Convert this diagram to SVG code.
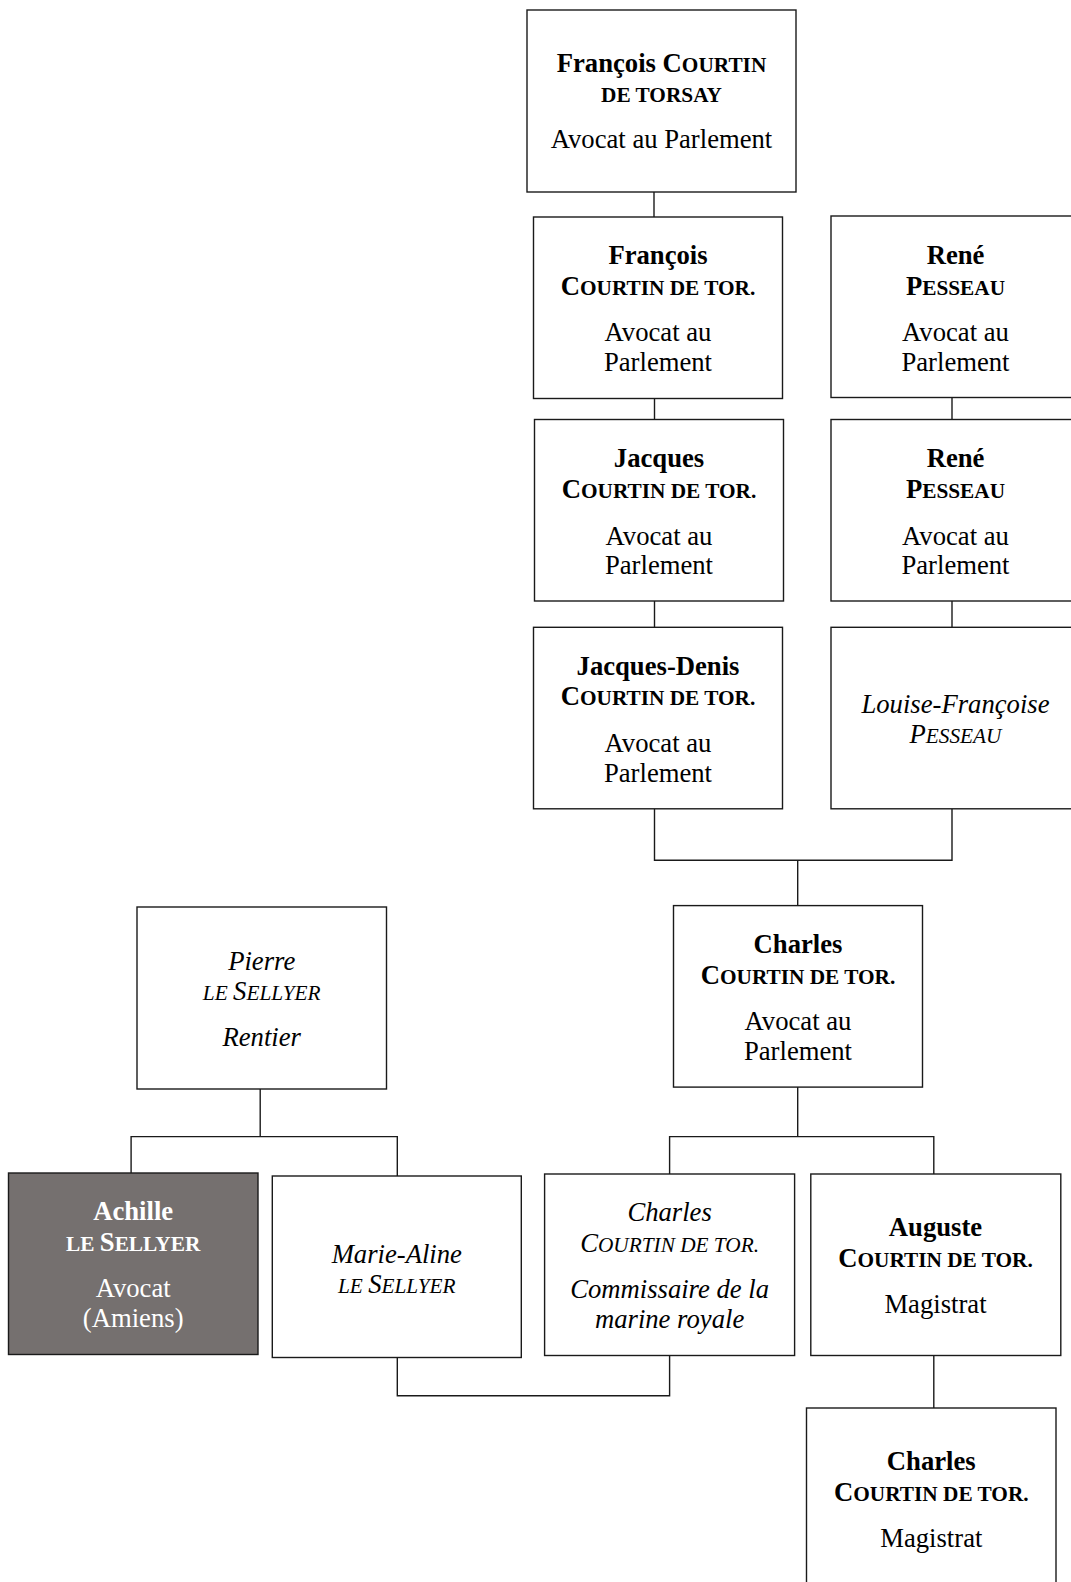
<svg xmlns="http://www.w3.org/2000/svg" width="1071" height="1582" viewBox="0 0 1071 1582">
<style>
  .box { fill: #ffffff; stroke: #1a1a1a; stroke-width: 1.4; }
  .dark { fill: #75706f; stroke: #1a1a1a; stroke-width: 1.4; }
  .ln { fill: none; stroke: #1a1a1a; stroke-width: 1.4; }
  text { font-family: "Liberation Serif", "Times New Roman", serif; font-size: 26.67px; fill: #000; text-anchor: middle; }
  .b { font-weight: bold; }
  .i { font-style: italic; }
  .w { fill: #ffffff; }
  .sc { font-size: 21.3px; }
</style>
<rect width="1071" height="1582" fill="#ffffff"/>

<g id="connectors">
  <path class="ln" d="M654 192 V217"/>
  <path class="ln" d="M654.5 398.5 V419.5"/>
  <path class="ln" d="M654.5 601 V627.3"/>
  <path class="ln" d="M952 397.5 V419.5"/>
  <path class="ln" d="M952 601 V627.3"/>
  <path class="ln" d="M654.5 808.8 V860.2 H952 V808.8"/>
  <path class="ln" d="M797.7 860.2 V905.6"/>
  <path class="ln" d="M260.2 1089 V1136.6"/>
  <path class="ln" d="M131.1 1173 V1136.6 H397.3 V1176"/>
  <path class="ln" d="M797.7 1087.1 V1136.6"/>
  <path class="ln" d="M669.6 1174 V1136.6 H933.8 V1174"/>
  <path class="ln" d="M397.3 1357.5 V1395.7 H669.6 V1355.5"/>
  <path class="ln" d="M933.8 1355.5 V1408"/>
</g>

<g id="n1">
  <rect class="box" x="527" y="10" width="269" height="182"/>
  <text class="b" x="661.5" y="71.7">François C<tspan class="sc">OURTIN</tspan></text>
  <text class="b sc" x="661.5" y="101.7">DE TORSAY</text>
  <text x="661.5" y="148">Avocat au Parlement</text>
</g>

<g id="n2">
  <rect class="box" x="533.5" y="217" width="249" height="181.5"/>
  <text class="b" x="658" y="264">François</text>
  <text class="b" x="658" y="294.5">C<tspan class="sc">OURTIN DE TOR.</tspan></text>
  <text x="658" y="341">Avocat au</text>
  <text x="658" y="370.5">Parlement</text>
</g>

<g id="n3">
  <rect class="box" x="831" y="216" width="249" height="181.5"/>
  <text class="b" x="955.5" y="264">René</text>
  <text class="b" x="955.5" y="294.5">P<tspan class="sc">ESSEAU</tspan></text>
  <text x="955.5" y="341">Avocat au</text>
  <text x="955.5" y="370.5">Parlement</text>
</g>

<g id="n4">
  <rect class="box" x="534.5" y="419.5" width="249" height="181.5"/>
  <text class="b" x="659" y="467">Jacques</text>
  <text class="b" x="659" y="497.5">C<tspan class="sc">OURTIN DE TOR.</tspan></text>
  <text x="659" y="544.5">Avocat au</text>
  <text x="659" y="574">Parlement</text>
</g>

<g id="n5">
  <rect class="box" x="831" y="419.5" width="249" height="181.5"/>
  <text class="b" x="955.5" y="467">René</text>
  <text class="b" x="955.5" y="497.5">P<tspan class="sc">ESSEAU</tspan></text>
  <text x="955.5" y="544.5">Avocat au</text>
  <text x="955.5" y="574">Parlement</text>
</g>

<g id="n6">
  <rect class="box" x="533.5" y="627.3" width="249" height="181.5"/>
  <text class="b" x="658" y="674.7">Jacques-Denis</text>
  <text class="b" x="658" y="705">C<tspan class="sc">OURTIN DE TOR.</tspan></text>
  <text x="658" y="751.5">Avocat au</text>
  <text x="658" y="781.5">Parlement</text>
</g>

<g id="n7">
  <rect class="box" x="831" y="627.3" width="249" height="181.5"/>
  <text class="i" x="955.5" y="713">Louise-Françoise</text>
  <text class="i" x="955.5" y="743">P<tspan class="sc">ESSEAU</tspan></text>
</g>

<g id="n8">
  <rect class="box" x="673.5" y="905.6" width="249" height="181.5"/>
  <text class="b" x="798" y="953">Charles</text>
  <text class="b" x="798" y="983.5">C<tspan class="sc">OURTIN DE TOR.</tspan></text>
  <text x="798" y="1030">Avocat au</text>
  <text x="798" y="1060">Parlement</text>
</g>

<g id="n9">
  <rect class="box" x="137" y="907" width="249.5" height="182"/>
  <text class="i" x="261.7" y="969.5">Pierre</text>
  <text class="i" x="261.7" y="999.5"><tspan class="sc">LE </tspan>S<tspan class="sc">ELLYER</tspan></text>
  <text class="i" x="261.7" y="1046.3">Rentier</text>
</g>

<g id="n10">
  <rect class="dark" x="8.5" y="1173" width="249.5" height="181.5"/>
  <text class="b w" x="133.2" y="1220.3">Achille</text>
  <text class="b w" x="133.2" y="1250.7"><tspan class="sc">LE </tspan>S<tspan class="sc">ELLYER</tspan></text>
  <text class="w" x="133.2" y="1297.2">Avocat</text>
  <text class="w" x="133.2" y="1327.2">(Amiens)</text>
</g>

<g id="n11">
  <rect class="box" x="272.3" y="1176" width="249" height="181.5"/>
  <text class="i" x="396.8" y="1262.6">Marie-Aline</text>
  <text class="i" x="396.8" y="1293"><tspan class="sc">LE </tspan>S<tspan class="sc">ELLYER</tspan></text>
</g>

<g id="n12">
  <rect class="box" x="544.6" y="1174" width="250" height="181.5"/>
  <text class="i" x="669.6" y="1221">Charles</text>
  <text class="i" x="669.6" y="1251.5">C<tspan class="sc">OURTIN DE TOR.</tspan></text>
  <text class="i" x="669.6" y="1298">Commissaire de la</text>
  <text class="i" x="669.6" y="1328">marine royale</text>
</g>

<g id="n13">
  <rect class="box" x="810.8" y="1174" width="250" height="181.5"/>
  <text class="b" x="935.5" y="1236.4">Auguste</text>
  <text class="b" x="935.5" y="1266.7">C<tspan class="sc">OURTIN DE TOR.</tspan></text>
  <text x="935.5" y="1313.2">Magistrat</text>
</g>

<g id="n14">
  <rect class="box" x="806.5" y="1408" width="249.5" height="181.5"/>
  <text class="b" x="931.3" y="1470.4">Charles</text>
  <text class="b" x="931.3" y="1500.7">C<tspan class="sc">OURTIN DE TOR.</tspan></text>
  <text x="931.3" y="1547">Magistrat</text>
</g>
</svg>
